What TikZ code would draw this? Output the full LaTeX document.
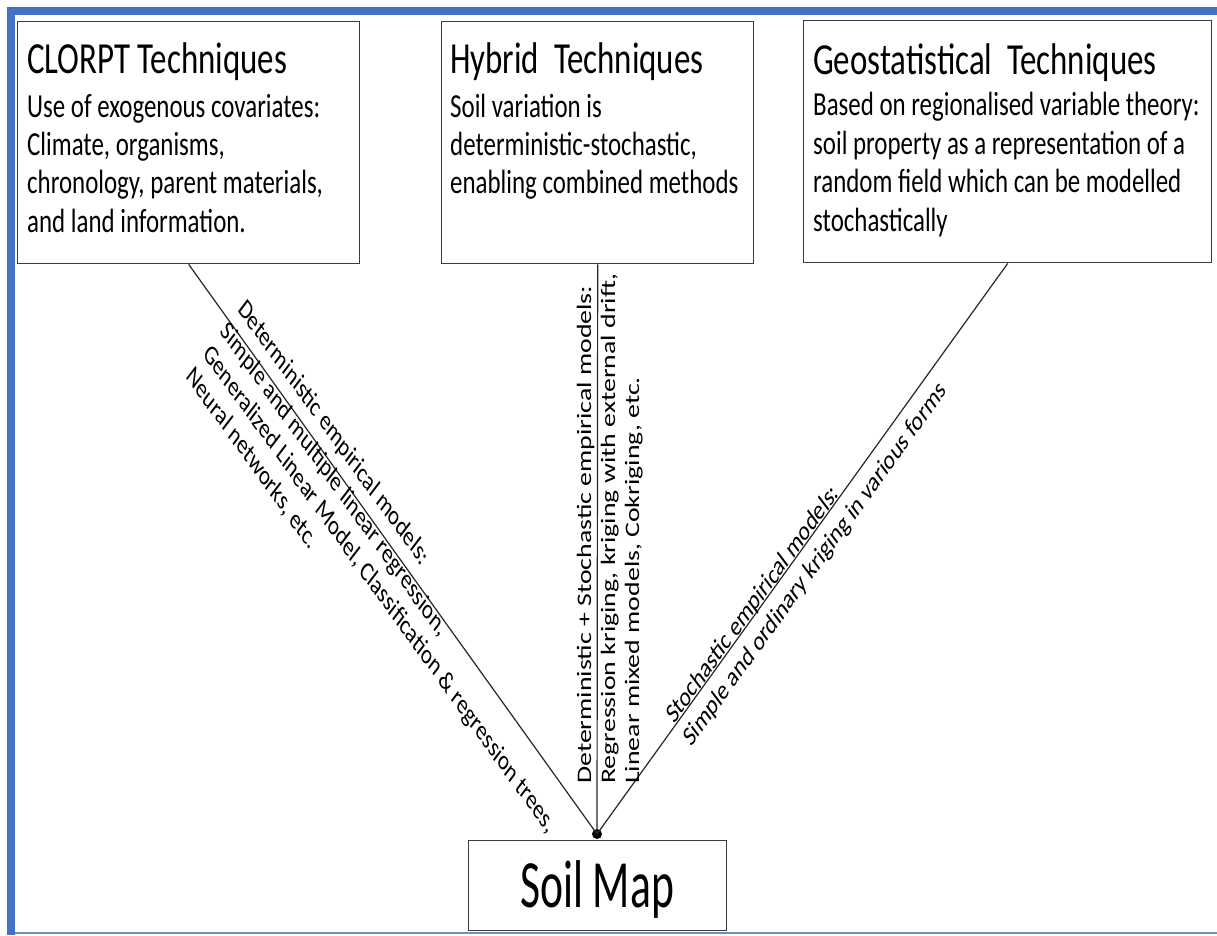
\documentclass[tikz,border=0pt]{standalone}
\usepackage{fontspec}
\setmainfont{Carlito}
\definecolor{frameblue}{HTML}{4472C4}
\definecolor{framethin}{HTML}{6F8FCB}
\definecolor{boxline}{HTML}{3C3C3C}
\tikzset{
  box/.style={draw=boxline, line width=1.4pt, anchor=north west, inner sep=0pt, fill=white},
  conn/.style={draw=black!85, line width=1.2pt},
  ttl/.style={anchor=base west, inner sep=0pt, font=\fontsize{32.9}{39}\selectfont},
  bodytxt/.style={anchor=base west, inner sep=0pt, font=\fontsize{24.9}{28.5}\selectfont},
  lbl/.style={anchor=base west, inner sep=0pt, font=\fontsize{20.6}{24}\selectfont},
  hubdot/.style={circle, fill=black, inner sep=0pt, minimum size=10pt},
}
\begin{document}
\begin{tikzpicture}[x=1pt,y=1pt]
\useasboundingbox (0,0) rectangle (1217,-935);
\fill[white] (0,0) rectangle (1217,-935);
% frame
\fill[frameblue] (7,-7) rectangle (1217,-15);
\fill[frameblue] (7,-7) rectangle (15,-935);
\draw[framethin, line width=2pt] (15,-933) -- (1217,-933);

% boxes
\node[box, minimum width=342pt, minimum height=242pt] (clorpt) at (17,-21) {};
\node[box, minimum width=312pt, minimum height=242pt] (hybrid) at (441,-21) {};
\node[box, minimum width=408pt, minimum height=242pt] (geo) at (803,-20) {};
\node[box, minimum width=258pt, minimum height=90pt] (soil) at (468,-840) {};
\node[hubdot] (hub) at (597,-834) {};

% connectors
\draw[conn] (clorpt.south) -- (hub.center);
\draw[conn] (hybrid.south) -- (hub.center);
\draw[conn] (geo.south) -- (hub.center);

% box texts
\begin{scope}[shift={(27,-73)}, yscale=1.35, transform shape]
  \node[ttl] (t1) at (0,0) {CLORPT Techniques};
  \node[bodytxt] (b1) at (0,-32.6) {\begin{tabular}[t]{@{}l@{}}Use of exogenous covariates:\\Climate, organisms,\\chronology, parent materials,\\and land information.\end{tabular}};
\end{scope}
\begin{scope}[shift={(450,-73)}, yscale=1.35, transform shape]
  \node[ttl] (t2) at (0,0) {Hybrid~ Techniques};
  \node[bodytxt] (b2) at (0,-32.6) {\begin{tabular}[t]{@{}l@{}}Soil variation is\\deterministic-stochastic,\\enabling combined methods\end{tabular}};
\end{scope}
\begin{scope}[shift={(813,-74)}, yscale=1.35, transform shape]
  \node[ttl] (t3) at (0,0) {Geostatistical~ Techniques};
  \node[bodytxt] (b3) at (0,-31.1) {\begin{tabular}[t]{@{}l@{}}Based on regionalised variable theory:\\soil property as a representation of a\\random field which can be modelled\\stochastically\end{tabular}};
\end{scope}

% connector labels
\begin{scope}[shift={(237,-310)}, yscale=1.35, rotate=-45.8, transform shape]
  \node[lbl] (l1) at (0,0) {\begin{tabular}[t]{@{}l@{}}Deterministic empirical models:\\Simple and multiple linear regression,\\Generalized Linear Model, Classification \& regression trees,\\Neural networks, etc.\end{tabular}};
\end{scope}
\begin{scope}[shift={(591,-784)}, yscale=1.35, rotate=90, transform shape]
  \node[lbl] (l2) at (0,0) {\begin{tabular}[t]{@{}l@{}}Deterministic + Stochastic empirical models:\\Regression kriging, kriging with external drift,\\Linear mixed models, Cokriging, etc.\end{tabular}};
\end{scope}
\begin{scope}[shift={(674,-725)}, yscale=1.35, rotate=45.8, transform shape]
  \node[lbl] (l3) at (0,0) {\begin{tabular}[t]{@{}l@{}}Stochastic empirical models:\\Simple and ordinary kriging in various forms\end{tabular}};
\end{scope}

% soil map text
\begin{scope}[shift={(597,-907)}, yscale=1.55, transform shape]
  \node[anchor=base, inner sep=0pt, font=\fontsize{43.6}{50}\selectfont] (soiltxt) at (0,0) {Soil Map};
\end{scope}
\end{tikzpicture}
\end{document}
